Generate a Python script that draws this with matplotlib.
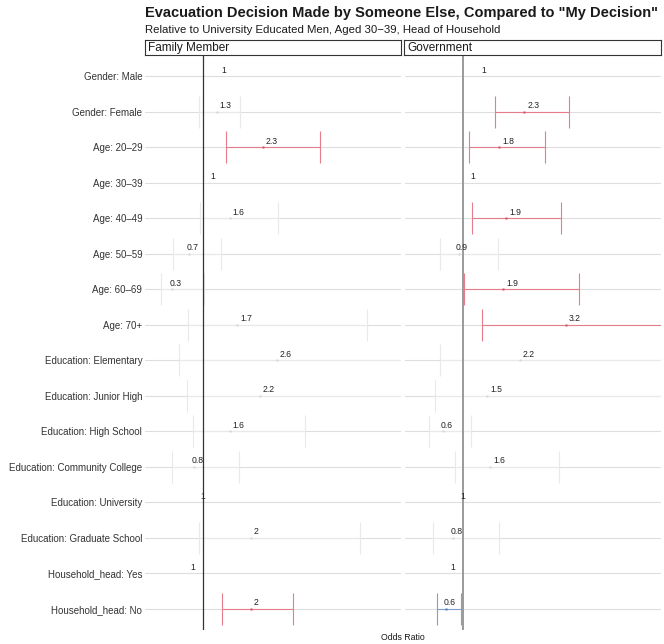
import numpy as np
import matplotlib
matplotlib.use('Agg')
import matplotlib.pyplot as plt

plt.rcParams['font.family'] = ['Liberation Sans', 'DejaVu Sans']

categories = ["Gender: Male", "Gender: Female", "Age: 20–29", "Age: 30–39",
              "Age: 40–49", "Age: 50–59", "Age: 60–69", "Age: 70+",
              "Education: Elementary", "Education: Junior High",
              "Education: High School", "Education: Community College",
              "Education: University", "Education: Graduate School",
              "Household_head: Yes", "Household_head: No"]
reference = [True, False, False, True, False, False, False, False,
             False, False, False, False, True, False, True, False]

panels = ["Family Member", "Government"]

family_est = [1, 1.29, 2.30, 1, 1.58, 0.69, 0.31, 1.74, 2.61, 2.24, 1.58, 0.80, 1, 2.04, 1, 2.04]
family_lo = [np.nan, 0.91, 1.49, np.nan, 0.93, 0.34, 0.08, 0.67, 0.47, 0.64, 0.77, 0.32, np.nan, 0.91, np.nan, 1.41]
family_hi = [np.nan, 1.81, 3.56, np.nan, 2.64, 1.39, 1.01, 4.59, 6.5, 6.0, 3.22, 1.79, np.nan, 4.44, np.nan, 2.97]

gov_est = [1, 2.34, 1.78, 1, 1.94, 0.90, 1.88, 3.24, 2.24, 1.52, 0.56, 1.59, 1, 0.77, 1, 0.63]
gov_lo = [np.nan, 1.70, 1.13, np.nan, 1.20, 0.50, 1.01, 1.42, 0.48, 0.39, 0.25, 0.81, np.nan, 0.33, np.nan, 0.43]
gov_hi = [np.nan, 3.31, 2.80, np.nan, 3.15, 1.75, 3.53, 7.0, 6.5, 5.8, 1.16, 3.10, np.nan, 1.78, np.nan, 0.94]

# label shifts (px) for reference-level "1" labels, as the repel did it
ref_shift_px = [18, 7.5, -2.7, -13]

W, H = 664, 644
fig = plt.figure(figsize=(W / 100, H / 100), dpi=100)

def fx(px):
    return px / W

def fy(py):
    return 1 - py / H

panel_left = [145, 405]
panel_w = 256
p_top, p_bot = 55.5, 629.5
xlim = (-0.277, 5.33)
n = len(categories)
ypos = np.arange(n)

RED, RED_PT = '#E67D8D', '#D94A5E'
BLUE, BLUE_PT = '#7FA0CC', '#4F78B3'
GREY, GREY_PT = '#E9E9E9', '#D6D6D6'

data = [(family_est, family_lo, family_hi), (gov_est, gov_lo, gov_hi)]
vline_style = [dict(color='#333333', lw=0.9), dict(color='#9A9A9A', lw=1.4)]

for k, (est, lo, hi) in enumerate(data):
    ax = fig.add_axes([fx(panel_left[k]), fy(p_bot), fx(panel_w), (p_bot - p_top) / H])
    ax.set_xlim(*xlim)
    ax.set_ylim(n - 1 + 0.585, -0.585)
    for s in ax.spines.values():
        s.set_visible(False)
    ax.set_xticks([])
    ax.set_yticks(ypos)
    ax.tick_params(axis='y', length=0, pad=2)
    if k == 0:
        ax.set_yticklabels(categories, fontsize=7, color='#333333')
    else:
        ax.set_yticklabels([])
    for y in ypos:
        ax.axhline(y, color='#DEDEDE', lw=0.8, zorder=0)

    ref_i = 0
    for i in range(n):
        e = est[i]
        if reference[i]:
            ax.annotate("1", (1, i), xytext=(ref_shift_px[ref_i] * 0.72, 1.1),
                        textcoords='offset points', ha='left', va='bottom',
                        fontsize=6.2, color='#222222', zorder=5)
            ref_i += 1
            continue
        if lo[i] > 1:
            c, cp = RED, RED_PT
        elif hi[i] < 1:
            c, cp = BLUE, BLUE_PT
        else:
            c, cp = GREY, GREY_PT
        ax.errorbar(e, i, xerr=[[e - lo[i]], [hi[i] - e]], fmt='none',
                    ecolor=c, elinewidth=0.8, capsize=11.8, capthick=0.8, zorder=2)
        ax.plot(e, i, 's', ms=1.6, color=cp, mec='none', zorder=3)
        dx = 2.2 if e >= 1 else -1.9
        ax.annotate(f"{round(e, 1):g}", (e, i), xytext=(dx, 1.1),
                    textcoords='offset points', ha='left', va='bottom',
                    fontsize=6.2, color='#222222', zorder=5)

    ax.axvline(1, zorder=4, **vline_style[k])

    # facet strip
    sx0 = panel_left[k] - 0.3 if k == 0 else panel_left[k] - 1
    sax = fig.add_axes([fx(sx0), fy(55.3), fx(256.5), 15.6 / H])
    sax.set_xticks([])
    sax.set_yticks([])
    for s in sax.spines.values():
        s.set_color('#333333')
        s.set_linewidth(0.8)
    sax.text(0.012, 0.45, panels[k], transform=sax.transAxes, ha='left',
             va='center', fontsize=8.5, color='#1A1A1A')

fig.text(fx(145), fy(17), 'Evacuation Decision Made by Someone Else, Compared to "My Decision"',
         fontsize=10.5, fontweight='bold', color='#1A1A1A', ha='left', va='baseline')
fig.text(fx(145), fy(33), 'Relative to University Educated Men, Aged 30−39, Head of Household',
         fontsize=8.2, color='#1A1A1A', ha='left', va='baseline')
fig.text(fx(403), fy(640), 'Odds Ratio', fontsize=6.3, color='#1A1A1A',
         ha='center', va='baseline')

fig.savefig('out.png', dpi=100)
